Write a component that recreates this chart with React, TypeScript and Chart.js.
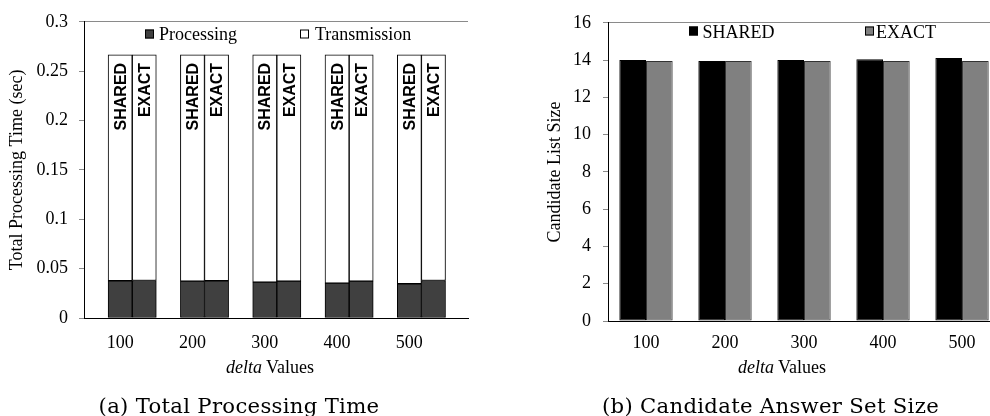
import React, { useEffect, useRef } from 'react';
import { Chart, registerables } from 'chart.js';

Chart.register(...registerables);

// ---------- data ----------
const categories = ['100', '200', '300', '400', '500'];

// (a) Total processing time (sec), stacked: processing + transmission
const processingShared = [0.0377, 0.0374, 0.0364, 0.0354, 0.0347];
const transmissionShared = [0.2288, 0.2291, 0.2301, 0.2311, 0.2318];
const processingExact = [0.038, 0.0377, 0.0374, 0.0374, 0.038];
const transmissionExact = [0.2285, 0.2288, 0.2291, 0.2291, 0.2285];
const spacer = [0, 0, 0, 0, 0];
const timeTicks = [0, 0.05, 0.1, 0.15, 0.2, 0.25, 0.3];
const timeTickLabels = ['0', '0.05', '0.1', '0.15', '0.2', '0.25', '0.3'];

// (b) Candidate list size
const candShared = [14.0, 13.95, 14.0, 14.05, 14.11];
const candExact = [13.95, 13.95, 13.95, 13.95, 13.95];
const sizeTicks = [0, 2, 4, 6, 8, 10, 12, 14, 16];
const sizeTickLabels = ['0', '2', '4', '6', '8', '10', '12', '14', '16'];

// ---------- helpers ----------
const SERIF = '"Liberation Serif", "Times New Roman", serif';
const CAPTION = '"DejaVu Serif", serif';
const pts = (vals: number[]) => vals.map((y, i) => ({ x: i + 1, y }));

const barTextPlugin = {
  id: 'barText',
  afterDatasetsDraw(chart: any) {
    const ctx = chart.ctx;
    chart.data.datasets.forEach((ds: any, di: number) => {
      if (!ds.topLabel) return;
      const meta = chart.getDatasetMeta(di);
      meta.data.forEach((el: any) => {
        const { x, y } = el.getProps(['x', 'y'], true);
        ctx.save();
        ctx.translate(x, y + 8);
        ctx.rotate(-Math.PI / 2);
        ctx.font = 'bold 16px "Liberation Sans", Arial, sans-serif';
        ctx.textAlign = 'right';
        ctx.textBaseline = 'alphabetic';
        ctx.fillStyle = '#000';
        ctx.fillText(ds.topLabel, 0, 5.7);
        ctx.restore();
      });
    });
  },
};

const boxLegendPlugin = {
  id: 'boxLegend',
  afterDraw(chart: any, _args: any, opts: any) {
    if (!opts || !opts.items) return;
    const ctx = chart.ctx;
    ctx.save();
    opts.items.forEach((it: any) => {
      const ds = chart.data.datasets[it.dataset];
      const s = opts.box;
      ctx.fillStyle = ds.backgroundColor;
      ctx.fillRect(it.boxX, opts.boxTop, s, s);
      ctx.strokeStyle = '#000';
      ctx.lineWidth = 1;
      ctx.strokeRect(it.boxX + 0.5, opts.boxTop + 0.5, s - 1, s - 1);
      ctx.fillStyle = '#000';
      ctx.font = `${opts.fontSize}px ${SERIF}`;
      ctx.textAlign = 'left';
      ctx.textBaseline = 'alphabetic';
      ctx.fillText(ds.label, it.textX, opts.baseline);
    });
    ctx.restore();
  },
};

function leftConfig(): any {
  const font = { family: SERIF, size: 18 };
  return {
    type: 'bar',
    data: {
      datasets: [
        { label: '', stack: 'pad', data: pts(spacer), backgroundColor: 'rgba(0,0,0,0)', borderWidth: 0 },
        { label: 'Processing', stack: 'shared', data: pts(processingShared), backgroundColor: '#404040', borderColor: '#000', borderWidth: 1, borderSkipped: false },
        { label: 'Transmission', stack: 'shared', data: pts(transmissionShared), backgroundColor: '#ffffff', borderColor: '#000', borderWidth: 1, borderSkipped: false, topLabel: 'SHARED' },
        { label: 'Processing', stack: 'exact', data: pts(processingExact), backgroundColor: '#404040', borderColor: '#000', borderWidth: 1, borderSkipped: false },
        { label: 'Transmission', stack: 'exact', data: pts(transmissionExact), backgroundColor: '#ffffff', borderColor: '#000', borderWidth: 1, borderSkipped: false, topLabel: 'EXACT' },
      ],
    },
    options: {
      responsive: false,
      animation: false,
      devicePixelRatio: 1,
      categoryPercentage: 1,
      barPercentage: 1,
      layout: { padding: { top: 19, right: 12, left: 0, bottom: 0 } },
      plugins: {
        legend: { display: false },
        tooltip: { enabled: false },
        boxLegend: {
          box: 9, boxTop: 29.5, baseline: 40, fontSize: 18,
          items: [
            { dataset: 1, boxX: 145, textX: 159 },
            { dataset: 2, boxX: 300, textX: 315 },
          ],
        },
      },
      scales: {
        x: {
          type: 'linear',
          min: 0.5,
          max: 5.811,
          offset: false,
          stacked: true,
          afterBuildTicks: (s: any) => { s.ticks = categories.map((_, i) => ({ value: i + 1 })); },
          afterFit: (s: any) => { s.height = 98; },
          ticks: { callback: (_v: any, i: number) => categories[i], font, color: '#000', padding: 14, maxRotation: 0, autoSkip: false },
          grid: { display: true, drawOnChartArea: false, drawTicks: false, offset: false },
          border: { color: '#000', width: 1 },
        },
        y: {
          type: 'linear',
          min: 0,
          max: 0.3,
          stacked: true,
          afterBuildTicks: (s: any) => { s.ticks = timeTicks.map((v) => ({ value: v })); },
          afterFit: (s: any) => { s.width = 84; },
          ticks: { callback: (_v: any, i: number) => timeTickLabels[i], font, color: '#000', padding: 11 },
          grid: {
            drawOnChartArea: true,
            color: (c: any) => (c.tick && Math.abs(c.tick.value - 0.3) < 1e-9 ? '#8a8a8a' : 'rgba(0,0,0,0)'),
            tickColor: '#8a8a8a',
            tickLength: 5,
          },
          border: { color: '#000', width: 1 },
          title: { display: true, text: 'Total Processing Time (sec)', font, color: '#000', padding: { top: 6, bottom: 0 } },
        },
      },
    },
    plugins: [barTextPlugin, boxLegendPlugin],
  };
}

function rightConfig(): any {
  const font = { family: SERIF, size: 18 };
  return {
    type: 'bar',
    data: {
      datasets: [
        { label: 'SHARED', data: pts(candShared), backgroundColor: '#000000', borderColor: '#000', borderWidth: 1, borderSkipped: false },
        { label: 'EXACT', data: pts(candExact), backgroundColor: '#808080', borderColor: '#333', borderWidth: 1, borderSkipped: false },
      ],
    },
    options: {
      responsive: false,
      animation: false,
      devicePixelRatio: 1,
      categoryPercentage: 0.675,
      barPercentage: 1,
      layout: { padding: { top: 20, right: 0, left: 0, bottom: 0 } },
      plugins: {
        legend: { display: false },
        tooltip: { enabled: false },
        boxLegend: {
          box: 9, boxTop: 26.5, baseline: 38, fontSize: 18,
          items: [
            { dataset: 0, boxX: 199, textX: 212.5 },
            { dataset: 1, boxX: 375, textX: 386 },
          ],
        },
      },
      scales: {
        x: {
          type: 'linear',
          min: 0.519,
          max: 5.354,
          offset: false,
          afterBuildTicks: (s: any) => { s.ticks = categories.map((_, i) => ({ value: i + 1 })); },
          afterFit: (s: any) => { s.height = 95; },
          ticks: { callback: (_v: any, i: number) => categories[i], font, color: '#000', padding: 11, maxRotation: 0, autoSkip: false },
          grid: { display: true, drawOnChartArea: false, drawTicks: false, offset: false },
          border: { color: '#000', width: 1 },
        },
        y: {
          type: 'linear',
          min: 0,
          max: 16,
          afterBuildTicks: (s: any) => { s.ticks = sizeTicks.map((v) => ({ value: v })); },
          afterFit: (s: any) => { s.width = 118; },
          ticks: { callback: (_v: any, i: number) => sizeTickLabels[i], font, color: '#000', padding: 12 },
          grid: {
            drawOnChartArea: true,
            color: (c: any) => (c.tick && c.tick.value === 16 ? '#8a8a8a' : 'rgba(0,0,0,0)'),
            tickColor: '#8a8a8a',
            tickLength: 5,
          },
          border: { color: '#000', width: 1 },
          title: { display: true, text: 'Candidate List Size', font, color: '#000', padding: { top: 54, bottom: 0 } },
        },
      },
    },
    plugins: [boxLegendPlugin],
  };
}

function ChartBox({ left, width, height, make }: { left: number; width: number; height: number; make: () => any }) {
  const ref = useRef<HTMLCanvasElement | null>(null);
  useEffect(() => {
    const chart = new Chart(ref.current as HTMLCanvasElement, make());
    return () => chart.destroy();
  }, []);
  return (
    <div style={{ position: 'absolute', left, top: 0, width, height }}>
      <canvas ref={ref} width={width} height={height} style={{ display: 'block', width, height }} />
    </div>
  );
}

function TextLine({ cx, baseline, size, family, ascent, descent, spacing, children }: any) {
  const top = baseline - (ascent - (ascent + descent - 1) / 2) * size;
  return (
    <div
      style={{
        position: 'absolute',
        left: cx,
        top,
        transform: 'translateX(-50%)',
        whiteSpace: 'nowrap',
        fontFamily: family,
        fontSize: size,
        lineHeight: `${size}px`,
        letterSpacing: spacing || 0,
        color: '#000',
      }}
    >
      {children}
    </div>
  );
}

export default function App() {
  return (
    <div style={{ position: 'fixed', left: 0, top: 0, width: 990, height: 416, background: '#fff', overflow: 'hidden' }}>
      <ChartBox left={0} width={480} height={416} make={leftConfig} />
      <ChartBox left={490} width={500} height={416} make={rightConfig} />
      <TextLine cx={270} baseline={373} size={18} family={SERIF} ascent={0.891} descent={0.216}>
        <i>delta</i> Values
      </TextLine>
      <TextLine cx={782} baseline={373} size={18} family={SERIF} ascent={0.891} descent={0.216}>
        <i>delta</i> Values
      </TextLine>
      <TextLine cx={239} baseline={412.7} size={21.2} spacing={0.3} family={CAPTION} ascent={0.928} descent={0.236}>
        (a) Total Processing Time
      </TextLine>
      <TextLine cx={770.5} baseline={412.7} size={21.2} spacing={0.3} family={CAPTION} ascent={0.928} descent={0.236}>
        (b) Candidate Answer Set Size
      </TextLine>
    </div>
  );
}
